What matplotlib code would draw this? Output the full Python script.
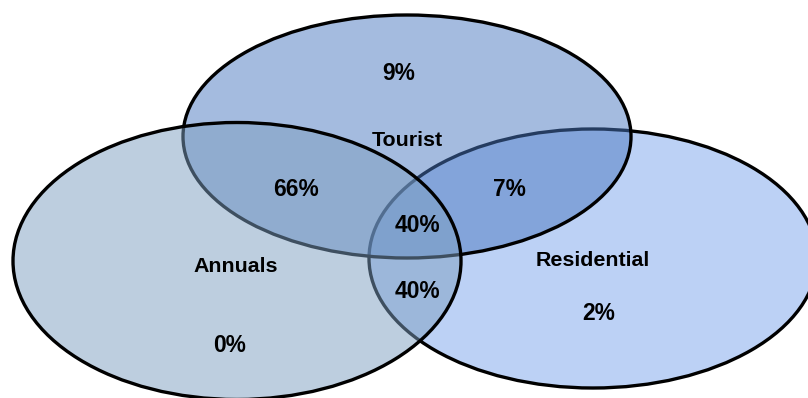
import matplotlib.pyplot as plt
from matplotlib.patches import Ellipse

plt.rcParams['font.family'] = ['Liberation Sans', 'DejaVu Sans']

# %% Data
set_names = ['Residential', 'Tourist', 'Annuals']
set_colors = [(123/255, 165/255, 237/255, 0.5),
              (75/255, 121/255, 193/255, 0.5),
              (125/255, 159/255, 193/255, 0.5)]
# region shares, keyed by which sets overlap
region_keys = ['T', 'A&T', 'T&R', 'A&T&R', 'A&R', 'R', 'A']
region_values = [9, 66, 7, 40, 40, 2, 0]

# %% Layout (pixel coords)
ellipses = {'Residential': (593, 258.5, 448, 259),
            'Tourist': (407, 136.5, 448, 243),
            'Annuals': (237, 261, 448, 277)}
name_pos = {'Residential': (593, 261), 'Tourist': (407.5, 140),
            'Annuals': (236, 266)}
region_pos = {'T': (399, 74), 'A&T': (296, 190), 'T&R': (509, 189),
              'A&T&R': (417, 225), 'A&R': (417, 291), 'R': (599, 314),
              'A': (230, 345)}

fig = plt.figure(figsize=(8.08, 3.98), dpi=100)
ax = fig.add_axes([0, 0, 1, 1])
ax.set_xlim(0, 808)
ax.set_ylim(398, 0)
ax.axis('off')

for name, color in zip(set_names, set_colors):
    cx, cy, w, h = ellipses[name]
    ax.add_patch(Ellipse((cx, cy), w, h, facecolor=color,
                         edgecolor='black', linewidth=2.4))

for name in set_names:
    x, y = name_pos[name]
    ax.text(x, y, name, ha='center', va='center', fontsize=15.4,
            fontweight='bold')

for key, val in zip(region_keys, region_values):
    x, y = region_pos[key]
    ax.text(x, y, str(val) + '%', ha='center', va='center', fontsize=16.4,
            fontweight='bold')

plt.savefig('out.png', dpi=100, facecolor='white')
